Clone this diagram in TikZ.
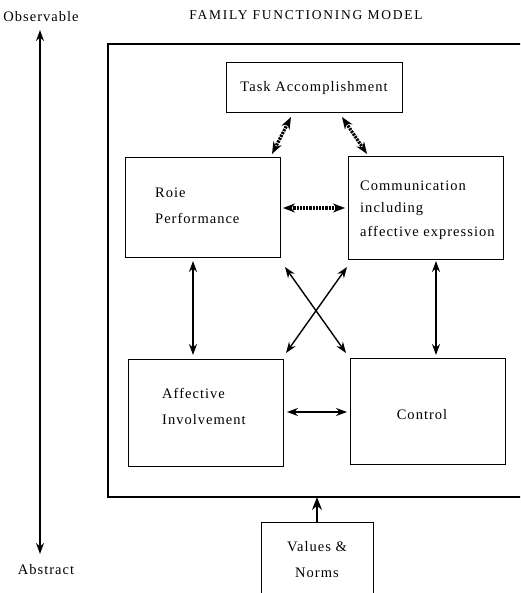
\documentclass[tikz,border=0pt]{standalone}
\usepackage{fontspec}
\setmainfont{Liberation Serif}[LetterSpace=7]
\usetikzlibrary{arrows.meta}
\tikzset{
  box/.style={draw, line width=1pt, inner sep=0pt},
  lbl/.style={font=\fontsize{14.5}{16}\selectfont, inner sep=0pt},
  tip/.style={{Stealth[length=11pt,width=8pt]}-{Stealth[length=11pt,width=8pt]}, line width=1.4pt},
  dtip/.style={{Stealth[length=12pt,width=9pt]}-{Stealth[length=12pt,width=9pt]}, line width=3.2pt, dash pattern=on 2.2pt off 1pt},
}
\begin{document}
\begin{tikzpicture}[x=1pt,y=-1pt]
\useasboundingbox (0,0) rectangle (520,593);
\clip (0,0) rectangle (520,593);
% title and axis labels
\node[inner sep=0pt, font=\fontsize{13.5}{15}\addfontfeatures{LetterSpace=13}\selectfont] (title) at (306,15) {FAMILY FUNCTIONING MODEL};
\node[lbl] (obs) at (41,17) {Observable};
\node[lbl] (abs) at (46,570) {Abstract};
\coordinate (axtop) at (40,30);
\coordinate (axbot) at (40,554);
\draw[tip] (axtop) -- (axbot);
% outer frame
\draw[line width=1.4pt] (522,44) -- (108,44) -- (108,497) -- (522,497);
\coordinate (frame) at (317,497);
% boxes
\node[box, minimum width=176pt, minimum height=50pt] (task) at (314,88) {};
\node[lbl] at (task.center) {Task Accomplishment};
\node[box, minimum width=155pt, minimum height=100pt] (role) at (203,207.5) {};
\node[lbl, anchor=west] at (155,193) {Roie};
\node[lbl, anchor=west] at (155,218) {Performance};
\node[box, minimum width=155pt, minimum height=102pt] (comm) at (425.5,208) {};
\node[lbl, anchor=west] at (360,186) {Communication};
\node[lbl, anchor=west] at (360,209) {including};
\node[lbl, anchor=west] at (360,233) {affective expression};
\node[box, minimum width=155pt, minimum height=107pt] (aff) at (205.5,412.5) {};
\node[lbl, anchor=west] at (162,393) {Affective};
\node[lbl, anchor=west] at (162,420) {Involvement};
\node[box, minimum width=155pt, minimum height=106pt] (ctrl) at (427.5,411) {};
\node[lbl] at (422,415) {Control};
% values box (open at the bottom)
\draw[line width=1pt] (261,596) -- (261,522) -- (373,522) -- (373,596);
\coordinate (valtop) at (317,522);
\node[lbl] (val1) at (317,547) {Values \&};
\node[lbl] (val2) at (317,573) {Norms};
% connectors
\draw[dtip] (291,117) -- (272,154);
\draw[dtip] (342,117) -- (367,154);
\draw[dtip] (283,208) -- (345,208);
\draw[tip] (193,261) -- (193,355);
\draw[tip] (436,261) -- (436,355);
\draw[tip] (285,267) -- (346,353);
\draw[tip] (347,267) -- (286,353);
\draw[tip] (287,412) -- (347,412);
\draw[-{Stealth[length=13pt,width=10pt]}, line width=1.4pt] (valtop) -- (frame);
\end{tikzpicture}
\end{document}
